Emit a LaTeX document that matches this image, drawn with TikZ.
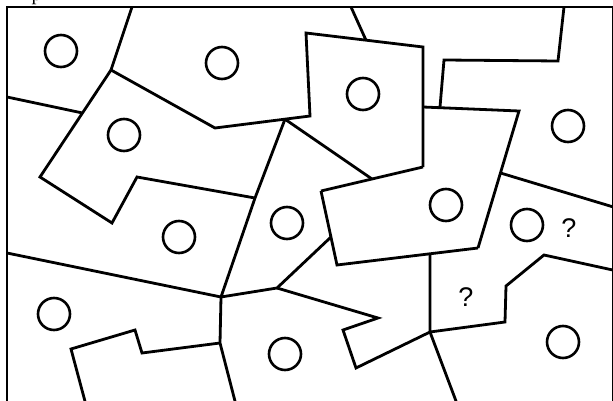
\documentclass[tikz,border=0pt]{standalone}
\usepackage{fontspec}
\newfontfamily\arialf{Liberation Sans}
\newfontfamily\timesf{Liberation Serif}
\begin{document}
\begin{tikzpicture}[x=1pt,y=-1pt,
  edge/.style={line width=2.8pt},
  hole/.style={circle, draw, line width=2.6pt, minimum size=32pt, inner sep=0pt},
  qmark/.style={font=\arialf\fontsize{27}{27}\selectfont, inner sep=0pt}]
\useasboundingbox (0,0) rectangle (613,401);
\clip (0,0) rectangle (613,401);
% cropped glyph above frame
\node[font=\timesf\fontsize{20}{20}\selectfont, inner sep=0pt, anchor=base west] (pglyph) at (31.5,0.5) {p};
% frame
\draw[edge] (7,420) -- (7,7) -- (613.8,7) -- (613.8,420);
% region borders
\draw[edge] (132,7) -- (111,70);
\draw[edge] (111,70) -- (40,177) -- (112,223) -- (137,177) -- (255,198);
\draw[edge] (7,97) -- (82.5,113);
\draw[edge] (111,70) -- (215,128) -- (310,116) -- (306,33) -- (423,47) -- (423,167);
\draw[edge] (351,7) -- (366,40.2);
\draw[edge] (564,7) -- (558,61) -- (444,60) -- (440,107);
\draw[edge] (423,107) -- (519,111) -- (478,248);
\draw[edge] (321,191) -- (423,167);
\draw[edge] (321,191) -- (337,265) -- (478,248);
\draw[edge] (500.5,173) -- (615,207.5);
\draw[edge] (285,119.2) -- (372,179);
\draw[edge] (285,119.2) -- (255,198) -- (221,297);
\draw[edge] (7,253) -- (221,297) -- (277,288) -- (331,237);
\draw[edge] (277,288) -- (378,318) -- (343,330) -- (356,368) -- (430,332);
\draw[edge] (430,254) -- (430,332) -- (505,322) -- (506,286) -- (544,255) -- (615,270.5);
\draw[edge] (430,332) -- (457.5,405);
\draw[edge] (221,297) -- (220,343) -- (236,405);
\draw[edge] (86,405) -- (71,349) -- (135,330) -- (142,353) -- (220,343);
% holes
\node[hole] (c1) at (61,51) {};
\node[hole] (c2) at (222,63) {};
\node[hole] (c3) at (363,94) {};
\node[hole] (c4) at (124,135) {};
\node[hole] (c5) at (568,126) {};
\node[hole] (c6) at (179,237) {};
\node[hole] (c7) at (287,223) {};
\node[hole] (c8) at (446,205) {};
\node[hole] (c9) at (527,225) {};
\node[hole] (c10) at (54,314) {};
\node[hole] (c11) at (285,354) {};
\node[hole] (c12) at (563,342) {};
% question marks
\node[qmark] (q1) at (569,228) {?};
\node[qmark] (q2) at (466,297) {?};
\end{tikzpicture}
\end{document}
